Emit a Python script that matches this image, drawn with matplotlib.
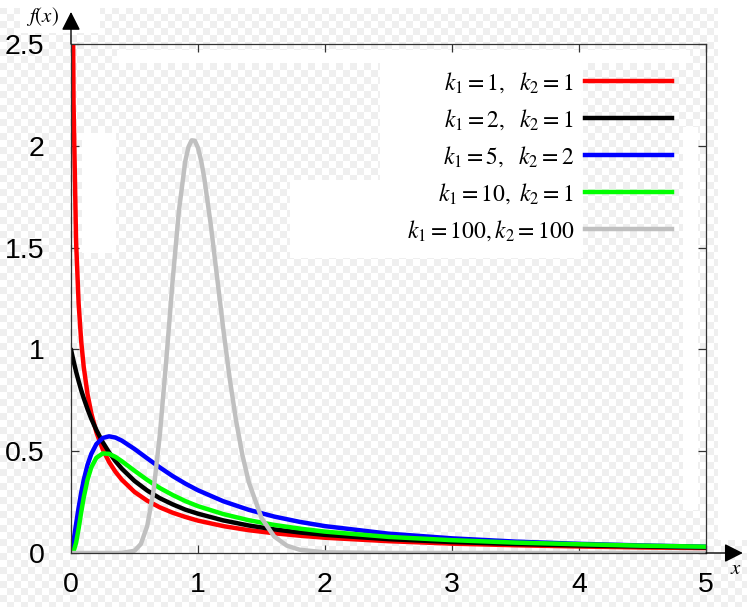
import numpy as np
import matplotlib
matplotlib.use("Agg")
import matplotlib.pyplot as plt

plt.rcParams['mathtext.fontset'] = 'stix'
plt.rcParams['font.family'] = ['Liberation Sans', 'DejaVu Sans']

# values
xs = [0, 0.005, 0.01, 0.02, 0.04, 0.06, 0.08, 0.1, 0.13, 0.16, 0.2, 0.25, 0.3, 0.35,
      0.4, 0.5, 0.6, 0.7, 0.8, 0.9, 1.0, 1.2, 1.4, 1.6, 1.8, 2.0, 2.5, 3.0, 3.5, 4.0,
      4.5, 5.0]
red = [np.nan, 4.48, 3.15, 2.21, 1.53, 1.226, 1.042, 0.915, 0.781, 0.686, 0.593, 0.509,
       0.447, 0.399, 0.360, 0.300, 0.257, 0.224, 0.198, 0.177, 0.159, 0.132, 0.112,
       0.097, 0.085, 0.075, 0.058, 0.046, 0.038, 0.032, 0.027, 0.024]
black = [1.0, 0.985, 0.971, 0.943, 0.891, 0.844, 0.800, 0.761, 0.707, 0.659, 0.604,
         0.544, 0.494, 0.451, 0.414, 0.354, 0.307, 0.269, 0.239, 0.213, 0.193, 0.160,
         0.135, 0.116, 0.101, 0.089, 0.068, 0.054, 0.044, 0.037, 0.032, 0.027]
blue = [0, 0.008, 0.023, 0.059, 0.142, 0.223, 0.295, 0.358, 0.433, 0.487, 0.535, 0.565,
        0.573, 0.567, 0.552, 0.511, 0.465, 0.420, 0.378, 0.341, 0.308, 0.254, 0.212,
        0.179, 0.153, 0.132, 0.095, 0.072, 0.056, 0.045, 0.037, 0.031]
green = [0, 0.0001, 0.0007, 0.007, 0.050, 0.120, 0.199, 0.272, 0.360, 0.421, 0.468,
         0.489, 0.487, 0.472, 0.451, 0.404, 0.359, 0.319, 0.285, 0.255, 0.230, 0.191,
         0.161, 0.138, 0.120, 0.105, 0.079, 0.063, 0.051, 0.043, 0.036, 0.031]
xg = [0, 0.3, 0.4, 0.5, 0.55, 0.6, 0.65, 0.7, 0.75, 0.8, 0.85, 0.9, 0.925, 0.95, 0.975,
      1.0, 1.025, 1.05, 1.1, 1.15, 1.2, 1.25, 1.3, 1.35, 1.4, 1.5, 1.6, 1.7, 1.8, 2.0,
      2.5, 5.0]
gray = [0, 0, 0.0002, 0.011, 0.044, 0.132, 0.306, 0.584, 0.946, 1.336, 1.683, 1.925,
        1.994, 2.027, 2.025, 1.990, 1.926, 1.839, 1.615, 1.356, 1.095, 0.855, 0.649,
        0.480, 0.348, 0.172, 0.081, 0.036, 0.016, 0.003, 0, 0]

labels = [r'$k_1=1,\ \ k_2=1$', r'$k_1=2,\ \ k_2=1$', r'$k_1=5,\ \ k_2=2$',
          r'$k_1=10,\ k_2=1$', r'$k_1=100,k_2=100$']
colors = ['#ff0000', '#000000', '#0000ff', '#00ff00', '#c0c0c0']
xticks = [0, 1, 2, 3, 4, 5]
yticks = [0, 0.5, 1, 1.5, 2, 2.5]
yticklabels = ['0', '0.5', '1', '1.5', '2', '2.5']

W, H = 747, 607
fig = plt.figure(figsize=(W / 100, H / 100), dpi=100)

# checkered background with a few white patches
yy, xx = np.mgrid[0:H, 0:W]
bg = np.where(((xx // 7) + (yy // 7)) % 2 == 0, 1.0, 0.94)
for x0, y0, x1, y1 in [(0, 0, 747, 8), (20, 0, 100, 33), (718, 0, 747, 540),
                       (380, 62, 583, 258), (290, 180, 385, 258), (117, 50, 690, 63),
                       (82, 133, 116, 253), (683, 127, 698, 510)]:
    bg[y0:y1, x0:x1] = 1.0
img = np.dstack([bg, bg, bg])
fig.figimage(img, 0, 0, origin='upper', zorder=-1)
fig.patch.set_alpha(0)

ax = fig.add_axes([71 / W, 1 - 553 / H, 635 / W, 509 / H])
ax.set_facecolor('none')

series = [red, black, blue, green]
for ys, c in zip(series, colors[:4]):
    ax.plot(xs, ys, color=c, lw=3.2, solid_joinstyle='round', solid_capstyle='round')
ax.plot(xg, gray, color=colors[4], lw=3.2, solid_joinstyle='round')

ax.set_xlim(0, 5)
ax.set_ylim(0, 2.5)
ax.set_xticks(xticks)
ax.set_xticklabels([str(t) for t in xticks])
ax.set_yticks(yticks)
ax.set_yticklabels(yticklabels)
ax.tick_params(direction='in', length=6, width=0.9, color='#333333',
               top=True, right=True, labelsize=20.5)
ax.tick_params(axis='x', pad=14)
ax.tick_params(axis='y', pad=19)
for s in ax.spines.values():
    s.set_color('#333333')
    s.set_linewidth(0.9)

# legend rows
row_y = [0.9273, 0.8546, 0.7819, 0.7092, 0.6365]
for lab, c, yr in zip(labels, colors, row_y):
    ax.plot([0.8094, 0.9465], [yr, yr], color=c, lw=3.2, transform=ax.transAxes)
    ax.text(0.792, yr - 0.004, lab, transform=ax.transAxes, ha='right', va='center',
            fontsize=17)

# axis arrows
arr = dict(arrowstyle='-|>,head_length=0.75,head_width=0.38', color='k', lw=1.0,
           mutation_scale=15, shrinkA=0, shrinkB=0)
ax.annotate('', xy=(0, 1.063), xytext=(0, 1), xycoords='axes fraction',
            arrowprops=arr, annotation_clip=False)
ax.annotate('', xy=(1.058, 0), xytext=(1, 0), xycoords='axes fraction',
            arrowprops=arr, annotation_clip=False)
ax.text(-0.0457, 1.055, r'$f(x)$', transform=ax.transAxes, ha='center', va='center',
        fontsize=15)
ax.text(1.047, -0.031, r'$x$', transform=ax.transAxes, ha='center', va='center',
        fontsize=15)

fig.savefig('out.png', dpi=100)
